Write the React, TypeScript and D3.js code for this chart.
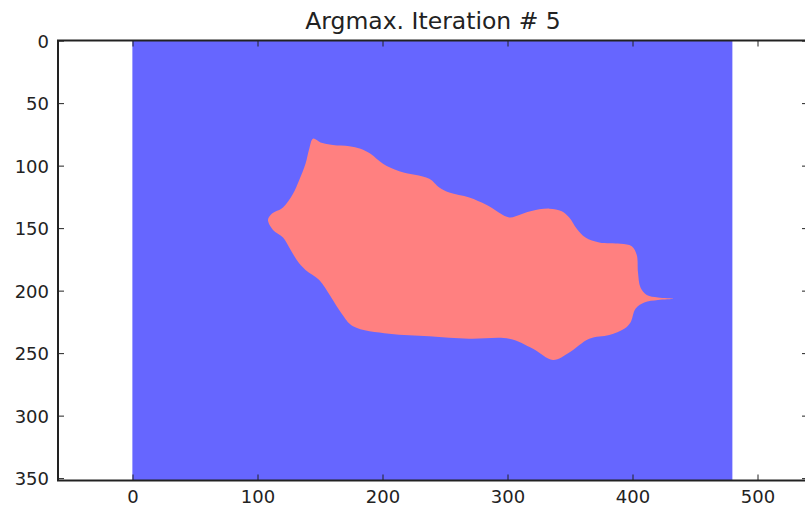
import React from "react";
import * as d3 from "d3";

// Label map rendered as an image: background class fills the whole frame,
// the foreground region is an outlined blob (image pixel coordinates).
const imageWidth = 480;
const imageHeight = 352;
const title = "Argmax. Iteration # 5";
const xTicks = [0, 100, 200, 300, 400, 500];
const yTicks = [0, 50, 100, 150, 200, 250, 300, 350];
const backgroundColor = "#6666ff";
const regionColor = "#ff8080";

// Outline of the foreground region: [column, row]
const regionOutline: [number, number][] = [
  [144, 78], [150, 81], [160, 83], [173, 84], [182, 86], [190, 90], [200, 98],
  [213, 104], [237, 110], [245, 117], [253, 121], [269, 125], [283, 131],
  [301, 141], [309, 139], [318, 136], [333, 134], [343, 136], [349, 141],
  [355, 150], [362, 157], [373, 161], [390, 162], [399, 164], [403, 171],
  [404, 185], [406, 197], [411, 203], [420, 205], [432, 206], [420, 207],
  [409, 209], [402, 214], [398, 225], [393, 230], [381, 235], [365, 238],
  [349, 249], [336, 255], [320, 246], [301, 238], [269, 238], [237, 236],
  [205, 234], [176, 228], [167, 218], [158, 204], [149, 191], [138, 183],
  [131, 175], [125, 165], [120, 157], [112, 151], [108, 143], [111, 138],
  [120, 133], [128, 122], [133, 111], [138, 98], [141, 86],
];

const W = 805;
const H = 507;
const frame = { left: 58, top: 40.5, bottom: 480.5 };

export default function App() {
  const pxPerUnit = (frame.bottom - frame.top) / imageHeight;
  const xMin = -60;
  const xMax = xMin + 600;
  const x = d3
    .scaleLinear()
    .domain([xMin, xMax])
    .range([frame.left, frame.left + (xMax - xMin) * pxPerUnit]);
  const y = d3
    .scaleLinear()
    .domain([-0.5, imageHeight - 0.5])
    .range([frame.top, frame.bottom]);

  const right = x(xMax);
  const tickLen = 6;
  const font = "DejaVu Sans, sans-serif";

  const blob = d3
    .line<[number, number]>()
    .x((d) => x(d[0]))
    .y((d) => y(d[1]))
    .curve(d3.curveCatmullRomClosed.alpha(0.5))(regionOutline);

  return (
    <svg
      width={W}
      height={H}
      style={{ position: "absolute", left: 0, top: 0, display: "block", background: "#fff" }}
    >
      <defs>
        <clipPath id="plot-area">
          <rect x={x(-0.5)} y={y(-0.5)} width={x(imageWidth - 0.5) - x(-0.5)} height={y(imageHeight - 0.5) - y(-0.5)} />
        </clipPath>
      </defs>

      <rect
        x={x(-0.5)}
        y={y(-0.5)}
        width={x(imageWidth - 0.5) - x(-0.5)}
        height={y(imageHeight - 0.5) - y(-0.5)}
        fill={backgroundColor}
      />
      <path d={blob ?? ""} fill={regionColor} clipPath="url(#plot-area)" />

      {/* ticks on all four sides, pointing inward */}
      {xTicks.map((t) => (
        <g key={`xt${t}`} stroke="#222" strokeWidth={1}>
          <line x1={x(t)} x2={x(t)} y1={frame.bottom} y2={frame.bottom - tickLen} />
          <line x1={x(t)} x2={x(t)} y1={frame.top} y2={frame.top + tickLen} />
        </g>
      ))}
      {yTicks.map((t) => (
        <g key={`yt${t}`} stroke="#222" strokeWidth={1}>
          <line x1={frame.left} x2={frame.left + tickLen} y1={y(t)} y2={y(t)} />
          <line x1={right} x2={right - tickLen} y1={y(t)} y2={y(t)} />
        </g>
      ))}

      <rect
        x={frame.left}
        y={frame.top}
        width={right - frame.left}
        height={frame.bottom - frame.top}
        fill="none"
        stroke="#222"
        strokeWidth={2}
      />

      {xTicks.map((t) => (
        <text
          key={`xl${t}`}
          x={x(t)}
          y={frame.bottom + 22}
          textAnchor="middle"
          fontFamily={font}
          fontSize={18}
          fill="#222"
        >
          {t}
        </text>
      ))}
      {yTicks.map((t) => (
        <text
          key={`yl${t}`}
          x={frame.left - 9}
          y={y(t)}
          dy="0.36em"
          textAnchor="end"
          fontFamily={font}
          fontSize={18}
          fill="#222"
        >
          {t}
        </text>
      ))}

      <text
        x={(frame.left + right) / 2}
        y={29}
        textAnchor="middle"
        fontFamily={font}
        fontSize={23.5}
        fill="#222"
      >
        {title}
      </text>
    </svg>
  );
}
